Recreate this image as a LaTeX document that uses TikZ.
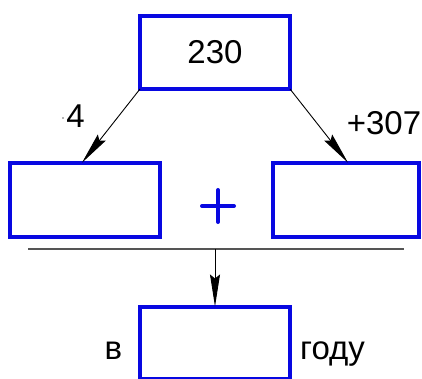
\documentclass[tikz,border=0pt]{standalone}
\usepackage{fontspec}
\setmainfont{Liberation Sans}
\usetikzlibrary{arrows.meta}
\definecolor{boxblue}{RGB}{8,8,225}
\definecolor{rulegray}{RGB}{85,85,85}
\tikzset{
  cell/.style={draw=boxblue, line width=4pt, minimum width=150pt, minimum height=74pt,
    inner sep=0pt, outer sep=0pt, font=\fontsize{33}{40}\selectfont},
  txt/.style={inner sep=0pt, anchor=base, font=\fontsize{33}{40}\selectfont},
  link/.style={draw=black, line width=0.9pt,
    -{Stealth[length=32pt,width=10pt,inset=4pt]}, shorten >=0pt},
}
\begin{document}
\begin{tikzpicture}[x=1pt,y=-1pt]
  \useasboundingbox (0,0) rectangle (422,379);
  % boxes
  \node[cell, minimum height=73pt] (top) at (215,52.5) {230};
  \node[cell] (lb) at (85,199.7) {};
  \node[cell, minimum width=146pt] (rb) at (346,199.7) {};
  \node[cell, minimum height=72pt] (bb) at (215,342.5) {};
  % plus sign between the two middle boxes
  \coordinate (pc) at (218,206);
  \draw[boxblue, line width=4pt, line cap=round] ([xshift=-16pt]pc) -- ([xshift=16pt]pc);
  \draw[boxblue, line width=4pt, line cap=round] ([yshift=-16pt]pc) -- ([yshift=16pt]pc);
  % result rule
  \coordinate (rl) at (28,249);
  \coordinate (rr) at (404,249);
  \coordinate (rm) at (215,249);
  \draw[rulegray, line width=1.3pt] (rl) -- (rr);
  % connectors
  \draw[link] (top.south west) -- ([xshift=-3pt]lb.north);
  \draw[link] (top.south east) -- ([xshift=2pt]rb.north);
  \draw[link] (rm) -- (bb.north);
  % labels
  \node[txt] (lm) at (75.5,128) {4};
  \fill[black!60] (63,118) circle (0.9pt);
  \node[txt] (lp) at (384,135) {+307};
  \node[txt] (lv) at (113.5,359) {в};
  \node[txt] (lg) at (332.5,359) {году};
\end{tikzpicture}
\end{document}
